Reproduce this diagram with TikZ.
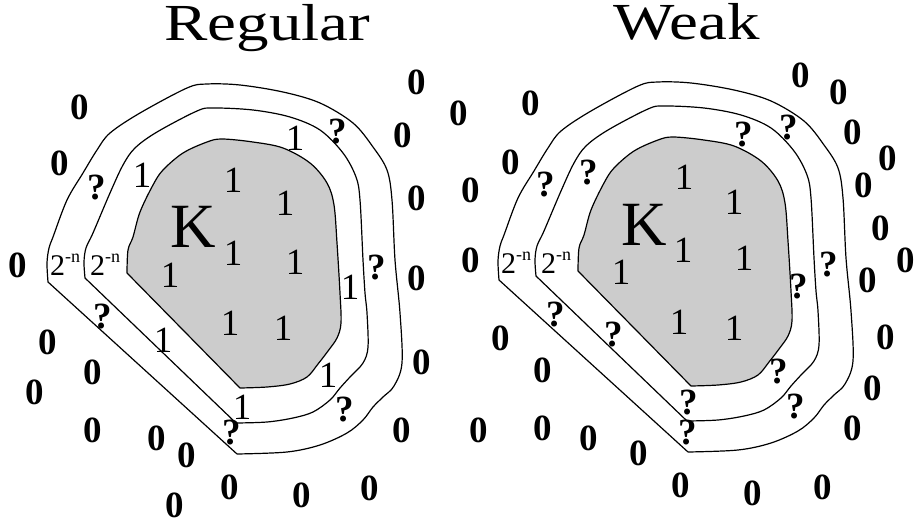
\documentclass[tikz,border=0pt]{standalone}
\usepackage{fontspec}
\setmainfont{Liberation Serif}
\definecolor{kgray}{RGB}{204,204,204}
\newcommand\figshapes{%
  \filldraw[contour,fill=kgray] (240,388) -- (127,273) -- plot[smooth,tension=0.55] coordinates {(127,273) (128,250) (133,237) (140,212) (153,185) (163,170) (183,153) (207,142) (222,139) (253,142) (283,148) (310,163) (327,183) (334,205) (337,243) (340,293) (341,323) (337,338) (328,351) (318,364) (307,377) (290,384) (267,387) (240,388)} -- cycle;
  \draw[contour] (236,423) -- (85,278) -- plot[smooth,tension=0.55] coordinates {(85,278) (84,262) (86,248) (93,233) (110,193) (123,165) (135,148) (157,132) (197,111) (213,108) (253,110) (290,117) (320,130) (343,153) (356,177) (360,200) (363,260) (365,293) (367,313) (368,347) (363,363) (350,377) (340,388) (330,400) (313,412) (293,418) (267,422) (236,423)};
  \draw[contour] (237,454) -- (48,282) -- plot[smooth,tension=0.55] coordinates {(48,282) (47,263) (49,248) (53,237) (67,200) (83,173) (97,150) (110,133) (140,113) (187,88) (207,84) (240,85) (283,92) (320,103) (353,123) (373,147) (387,170) (392,200) (395,260) (400,313) (402,363) (394,386) (383,397) (373,407) (363,420) (347,433) (320,445) (287,452) (237,454)};
}
\begin{document}
\begin{tikzpicture}[x=1pt,y=-1pt,
  contour/.style={line width=1.2pt,line join=round},
  zero/.style={font=\fontsize{37}{37}\selectfont\bfseries,inner sep=0pt},
  one/.style={font=\fontsize{37}{37}\selectfont,inner sep=0pt},
  qmark/.style={font=\fontsize{37}{37}\selectfont\bfseries,inner sep=0pt},
  kset/.style={font=\fontsize{63}{63}\selectfont,inner sep=0pt},
  twon/.style={font=\fontsize{30}{30}\selectfont,inner sep=0pt,anchor=base west},
  title/.style={font=\fontsize{52}{52}\selectfont,inner sep=0pt,anchor=base}]
\useasboundingbox (0,0) rectangle (916,525);
% shapes
\figshapes
\begin{scope}[shift={(451,-2)}]
\figshapes
\end{scope}
% titles
\node[title] (tr) at (267.5,40) {\scalebox{1.25}[1]{Regular}};
\node[title] (tw) at (686.5,39) {\scalebox{1.25}[1]{Weak}};
% K
\node[kset] (kl) at (193,227) {K};
\node[kset] (kr) at (644,225) {K};
% 2^-n
\newcommand\twominusn{2\raisebox{0.42em}{\fontsize{18}{18}\selectfont -n}}
\node[twon] (tl1) at (50,275) {\twominusn};
\node[twon] (tl2) at (90,275) {\twominusn};
\node[twon] (tr1) at (501,273) {\twominusn};
\node[twon] (tr2) at (541,273) {\twominusn};
% left zeros
\foreach \x/\y [count=\i] in {80/107,60/163,417/82,459/113,403/135,417/198,18/265,417/278,48/342,93/372,35/392,422/362,93/430,157/438,187/455,402/430,230/487,175/505,302/495,370/488}
  \node[zero] (zl\i) at (\x,\y) {0};
% left ones
\foreach \x/\y [count=\i] in {142/175,295/138,233/180,285/203,233/253,295/262,170/275,350/287,163/340,230/323,283/328,328/375,242/407}
  \node[one] (ol\i) at (\x,\y) {1};
% left question marks
\foreach \x/\y [count=\i] in {97/188,338/132,377/268,103/317,345/410,232/433}
  \node[qmark] (ql\i) at (\x,\y) {?};
% right zeros
\foreach \x/\y [count=\i] in {531/103,801/75,839/92,511/162,853/132,888/158,471/190,864/185,881/228,471/260,906/260,868/280,501/338,886/337,543/370,873/388,479/430,543/428,589/438,853/428,639/453,681/485,753/493,823/487}
  \node[zero] (zr\i) at (\x,\y) {0};
% right ones
\foreach \x/\y [count=\i] in {684/177,734/202,683/250,744/258,621/272,679/322,734/328}
  \node[one] (or\i) at (\x,\y) {1};
% right question marks
\foreach \x/\y [count=\i] in {546/185,589/173,744/135,789/128,829/265,799/287,556/315,614/335,779/372,689/403,796/407,688/433}
  \node[qmark] (qr\i) at (\x,\y) {?};
\end{tikzpicture}
\end{document}
